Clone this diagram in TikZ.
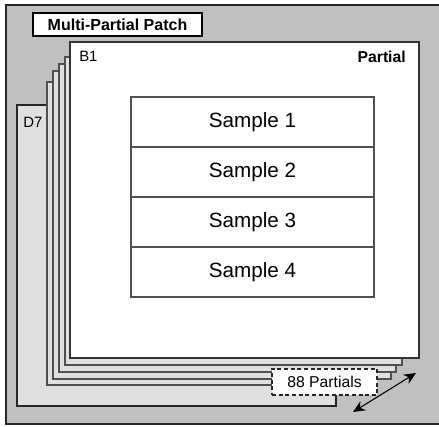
\documentclass[tikz,border=0pt]{standalone}
\usepackage{fontspec}
\setmainfont{Liberation Sans}
\usetikzlibrary{arrows.meta,positioning}
\definecolor{patchgray}{HTML}{C0C0C0}
\definecolor{layergray}{HTML}{E0E0E0}
\definecolor{edgegray}{HTML}{505050}
\tikzset{
  patch/.style={draw=black!85,fill=patchgray,line width=1.1pt},
  layer/.style={draw=edgegray,fill=layergray,line width=0.8pt},
  frontlayer/.style={draw=black!80,fill=white,line width=0.9pt},
  samplebox/.style={draw=edgegray,fill=white,line width=0.8pt,outer sep=0pt,
    minimum width=182.25pt,minimum height=37.5pt,inner sep=0pt,
    font=\fontsize{15.5}{17}\selectfont},
  titlebox/.style={draw=black,fill=white,line width=1.5pt,outer sep=0pt,
    minimum width=127pt,minimum height=17.5pt,inner sep=0pt,
    font=\fontsize{12}{14}\selectfont\bfseries},
  countbox/.style={draw=black!85,fill=white,dash pattern=on 3pt off 2pt,line width=0.8pt,
    minimum width=78.75pt,minimum height=19.5pt,inner sep=0pt,outer sep=0pt,
    font=\fontsize{11.8}{14}\selectfont},
  smalllabel/.style={inner sep=0pt,font=\fontsize{11.2}{13}\selectfont},
  countarrow/.style={{Stealth[length=9pt,width=8pt]}-{Stealth[length=9pt,width=8pt]},line width=0.8pt}
}
\begin{document}
\begin{tikzpicture}[x=0.75pt,y=-0.75pt]
\useasboundingbox (0,0) rectangle (439,427);
% patch background
\draw[patch] (6,5) rectangle (448,424);
\node[titlebox] (title) at (117.5,24.5) {Multi-Partial Patch};
% stack of partials, back to front
\draw[layer,draw=black!85] (17,105) rectangle (336,406);
\foreach \l/\t/\r/\b in {47/82/375/385,53/71/391/379,59/64/396/372,65/57/402/365}{
  \draw[layer] (\l,\t) rectangle (\r,\b);
}
\draw[frontlayer] (70,42) rectangle (419,358);
\node[smalllabel,anchor=base west] (dlabel) at (23,128) {D7};
\node[smalllabel,anchor=base west] (blabel) at (79,62) {B1};
\node[smalllabel,anchor=base east,font=\fontsize{11.8}{13}\selectfont\bfseries] (partlabel) at (406,63) {Partial};
% samples
\node[samplebox] (s1) at (252.5,122) {Sample 1};
\node[samplebox,below=0pt of s1] (s2) {Sample 2};
\node[samplebox,below=0pt of s2] (s3) {Sample 3};
\node[samplebox,below=0pt of s3] (s4) {Sample 4};
% partial count
\node[countbox] (count) at (324.5,382) {88 Partials};
\coordinate (arrowa) at (353,412);
\coordinate (arrowb) at (416,373);
\draw[countarrow] (arrowa) -- (arrowb);
\end{tikzpicture}
\end{document}
